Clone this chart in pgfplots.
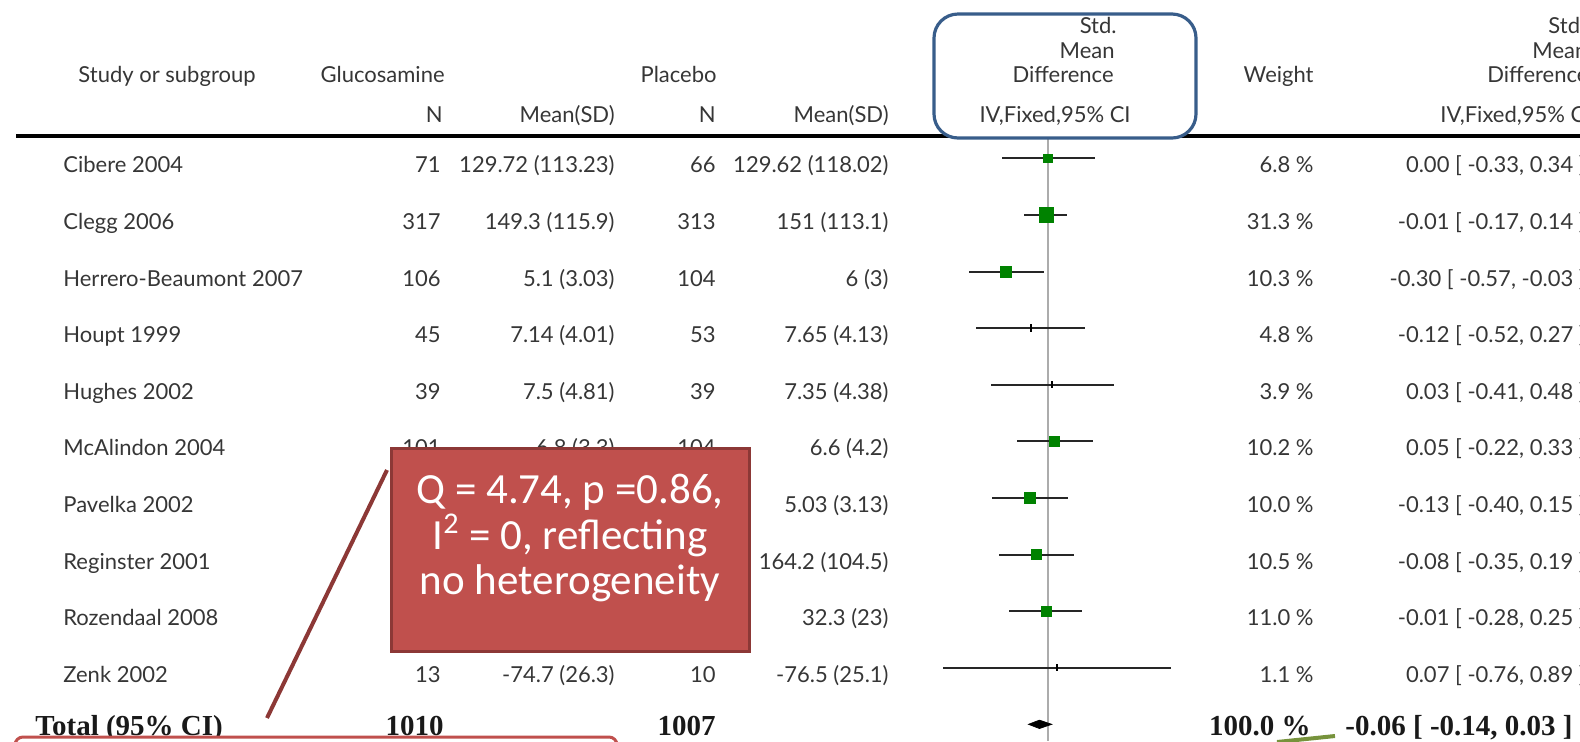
\documentclass[border=0pt]{standalone}
\usepackage{pgfplots}
\pgfplotsset{compat=1.18}
\usepackage{pgfplotstable}
\usepackage{fontspec}
\setmainfont{Lato}
\newfontfamily\tnr{Liberation Serif}
\newfontfamily\calfont{Carlito}
\definecolor{txt}{HTML}{363636}
\definecolor{boxgreen}{RGB}{0,130,0}
\definecolor{hdrblue}{RGB}{56,93,138}
\definecolor{calred}{HTML}{C0504D}
\definecolor{calredd}{HTML}{8C3836}
\definecolor{olivegr}{HTML}{77933C}

% study rows: row, estimate, lower, upper (std. mean difference)
\pgfplotstableread{
row est lo hi
1 0.00 -0.33 0.34
2 -0.01 -0.17 0.14
3 -0.30 -0.57 -0.03
4 -0.12 -0.52 0.27
5 0.03 -0.41 0.48
6 0.05 -0.22 0.33
7 -0.13 -0.40 0.15
8 -0.08 -0.35 0.19
9 -0.01 -0.28 0.25
10 0.07 -0.76 0.89
}\cidata

% weight boxes (half side in pt)
\pgfplotstableread{
row est sz
1 0.00 2.1
2 -0.01 3.6
3 -0.30 2.7
6 0.05 2.4
7 -0.13 2.6
8 -0.08 2.4
9 -0.01 2.6
}\boxtab

\begin{document}
\begin{tikzpicture}[x=0.5pt,y=-0.5pt,
  t/.style={text=txt, font=\fontsize{11}{13}\selectfont, inner sep=0pt},
  tb/.style={text=black!90, font=\tnr\bfseries\fontsize{14.5}{16}\selectfont, inner sep=0pt}]
\useasboundingbox (0,0) rectangle (1580,741);
\clip (0,0) rectangle (1580,741);

\begin{axis}[at={(460pt,-370.5pt)}, anchor=south west, scale only axis,
  width=130pt, height=305.5pt,
  xmin=-0.924, xmax=0.957, ymin=0.5, ymax=11.295, y dir=reverse,
  hide axis, clip=false]
\addplot[gray!65, line width=0.9pt] coordinates {(0,0.5) (0,11.295)};
\addplot[draw=none, mark=none,
  error bars/.cd, x dir=both, x explicit, error mark=none,
  error bar style={draw=black!85, line width=1pt}]
  table[x=est, y=row,
        x error plus expr=\thisrow{hi}-\thisrow{est},
        x error minus expr=\thisrow{est}-\thisrow{lo}] {\cidata};
\addplot[scatter, only marks, mark=square*,
  scatter/use mapped color={draw=boxgreen, fill=boxgreen},
  visualization depends on={\thisrow{sz}\as\boxsz},
  scatter/@pre marker code/.append style={/tikz/mark size=\boxsz pt}]
  table[x=est, y=row] {\boxtab};
\addplot[draw=none, mark=none,
  error bars/.cd, y dir=both, y fixed=0.065, error mark=none,
  error bar style={draw=black, line width=0.9pt, line cap=butt}]
  table[x=est, y=row] {\cidata};
\addplot[fill=black, draw=black, line width=0.3pt]
  coordinates {(-0.14,11) (-0.06,10.925) (0.03,11) (-0.06,11.075)} -- cycle;
\end{axis}

% header rule
\draw[black, line width=2pt] (16,136) -- (1580,136);

% blue highlight box
\draw[hdrblue, line width=1.6pt, fill=white, rounded corners=12pt] (934,14) rectangle (1196,138);

% headers
\node[t, anchor=base] at (167,82) {Study or subgroup};
\node[t, anchor=base east] at (445,82) {Glucosamine};
\node[t, anchor=base east] at (717,82) {Placebo};
\node[t, anchor=base east] at (443,122) {N};
\node[t, anchor=base east] at (615,122) {Mean(SD)};
\node[t, anchor=base east] at (716,122) {N};
\node[t, anchor=base east] at (889,122) {Mean(SD)};
\node[t, anchor=base east] at (1117,33) {Std.};
\node[t, anchor=base east] at (1115,58) {Mean};
\node[t, anchor=base east] at (1114,82) {Difference};
\node[t, anchor=base east] at (1131,122) {IV,Fixed,95\% CI};
\node[t, anchor=base east] at (1314,82) {Weight};
\node[t, anchor=base west] at (1548,33) {Std.};
\node[t, anchor=base west] at (1532,58) {Mean};
\node[t, anchor=base west] at (1487,82) {Difference};
\node[t, anchor=base west] at (1440,122) {IV,Fixed,95\% CI};

% rows
\node[t, anchor=base west] at (63,172.8) {Cibere 2004};
\node[t, anchor=base east] at (441,172.8) {71};
\node[t, anchor=base east] at (615,172.8) {129.72 (113.23)};
\node[t, anchor=base east] at (716,172.8) {66};
\node[t, anchor=base east] at (889,172.8) {129.62 (118.02)};
\node[t, anchor=base east] at (1314,172.8) {6.8 \%};
\node[t, anchor=base east] at (1586,172.8) {0.00 [ -0.33, 0.34 ]};

\node[t, anchor=base west] at (63,229.4) {Clegg 2006};
\node[t, anchor=base east] at (441,229.4) {317};
\node[t, anchor=base east] at (615,229.4) {149.3 (115.9)};
\node[t, anchor=base east] at (716,229.4) {313};
\node[t, anchor=base east] at (889,229.4) {151 (113.1)};
\node[t, anchor=base east] at (1314,229.4) {31.3 \%};
\node[t, anchor=base east] at (1586,229.4) {-0.01 [ -0.17, 0.14 ]};

\node[t, anchor=base west] at (63,286) {Herrero-Beaumont 2007};
\node[t, anchor=base east] at (441,286) {106};
\node[t, anchor=base east] at (615,286) {5.1 (3.03)};
\node[t, anchor=base east] at (716,286) {104};
\node[t, anchor=base east] at (889,286) {6 (3)};
\node[t, anchor=base east] at (1314,286) {10.3 \%};
\node[t, anchor=base east] at (1586,286) {-0.30 [ -0.57, -0.03 ]};

\node[t, anchor=base west] at (63,342.6) {Houpt 1999};
\node[t, anchor=base east] at (441,342.6) {45};
\node[t, anchor=base east] at (615,342.6) {7.14 (4.01)};
\node[t, anchor=base east] at (716,342.6) {53};
\node[t, anchor=base east] at (889,342.6) {7.65 (4.13)};
\node[t, anchor=base east] at (1314,342.6) {4.8 \%};
\node[t, anchor=base east] at (1586,342.6) {-0.12 [ -0.52, 0.27 ]};

\node[t, anchor=base west] at (63,399.2) {Hughes 2002};
\node[t, anchor=base east] at (441,399.2) {39};
\node[t, anchor=base east] at (615,399.2) {7.5 (4.81)};
\node[t, anchor=base east] at (716,399.2) {39};
\node[t, anchor=base east] at (889,399.2) {7.35 (4.38)};
\node[t, anchor=base east] at (1314,399.2) {3.9 \%};
\node[t, anchor=base east] at (1586,399.2) {0.03 [ -0.41, 0.48 ]};

\node[t, anchor=base west] at (63,455.8) {McAlindon 2004};
\node[t, anchor=base east] at (441,455.8) {101};
\node[t, anchor=base east] at (615,455.8) {6.8 (3.3)};
\node[t, anchor=base east] at (716,455.8) {104};
\node[t, anchor=base east] at (889,455.8) {6.6 (4.2)};
\node[t, anchor=base east] at (1314,455.8) {10.2 \%};
\node[t, anchor=base east] at (1586,455.8) {0.05 [ -0.22, 0.33 ]};

\node[t, anchor=base west] at (63,512.4) {Pavelka 2002};
\node[t, anchor=base east] at (889,512.4) {5.03 (3.13)};
\node[t, anchor=base east] at (1314,512.4) {10.0 \%};
\node[t, anchor=base east] at (1586,512.4) {-0.13 [ -0.40, 0.15 ]};

\node[t, anchor=base west] at (63,569) {Reginster 2001};
\node[t, anchor=base east] at (889,569) {164.2 (104.5)};
\node[t, anchor=base east] at (1314,569) {10.5 \%};
\node[t, anchor=base east] at (1586,569) {-0.08 [ -0.35, 0.19 ]};

\node[t, anchor=base west] at (63,625.6) {Rozendaal 2008};
\node[t, anchor=base east] at (889,625.6) {32.3 (23)};
\node[t, anchor=base east] at (1314,625.6) {11.0 \%};
\node[t, anchor=base east] at (1586,625.6) {-0.01 [ -0.28, 0.25 ]};

\node[t, anchor=base west] at (63,682.2) {Zenk 2002};
\node[t, anchor=base east] at (441,682.2) {13};
\node[t, anchor=base east] at (615,682.2) {-74.7 (26.3)};
\node[t, anchor=base east] at (716,682.2) {10};
\node[t, anchor=base east] at (889,682.2) {-76.5 (25.1)};
\node[t, anchor=base east] at (1314,682.2) {1.1 \%};
\node[t, anchor=base east] at (1586,682.2) {0.07 [ -0.76, 0.89 ]};

% total
\node[tb, anchor=base west] at (35,735) {Total (95\% CI)};
\node[tb, anchor=base east] at (444,735) {1010};
\node[tb, anchor=base east] at (716,735) {1007};
\node[tb, anchor=base east] at (1311,735) {100.0 \%};
\node[tb, anchor=base east] at (1573,735) {-0.06 [ -0.14, 0.03 ]};

% callout
\draw[calredd, line width=2pt] (387,470) -- (267,718);
\draw[calredd, line width=1.5pt, fill=calred] (391,448) rectangle (749,651);
\node[text=white, font=\calfont\fontsize{21.5}{22.8}\selectfont, align=center, inner sep=0pt]
  at (570,538) {Q = 4.74, p =0.86,\\I\textsuperscript{2} = 0, reflecting\\no heterogeneity};

% bottom partial box and green pointer
\draw[calred, line width=1.5pt, fill=white, rounded corners=4pt] (15,737) rectangle (617,800);
\draw[olivegr, line width=2pt] (1277,742) -- (1335,736);
\end{tikzpicture}
\end{document}
